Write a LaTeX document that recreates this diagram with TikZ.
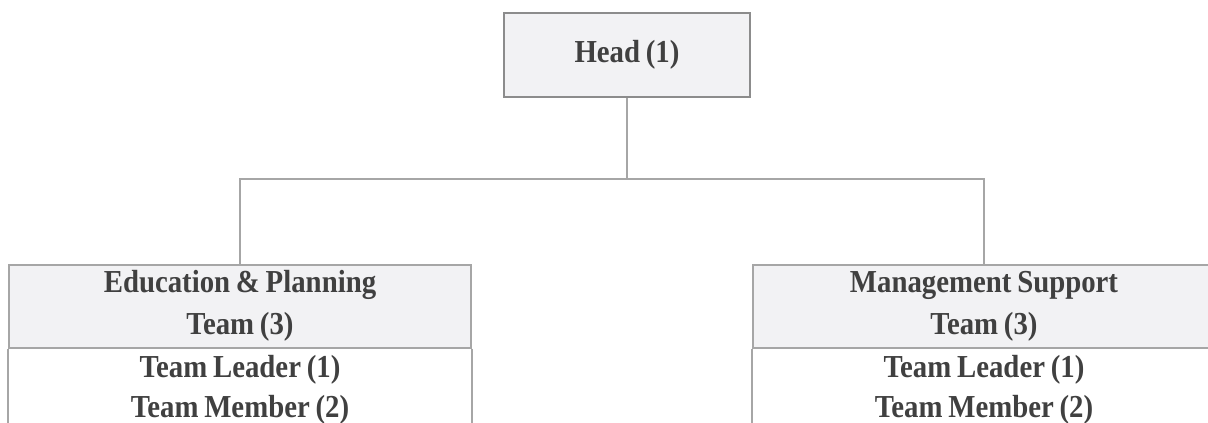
\documentclass[tikz,border=0pt]{standalone}
\usepackage{fontspec}
\setmainfont{Liberation Serif}[FakeStretch=0.9, WordSpace=0.8]
\usetikzlibrary{positioning}
\definecolor{boxfill}{HTML}{F2F2F4}
\definecolor{boxline}{HTML}{A6A6A6}
\definecolor{headline}{HTML}{8C8C8C}
\definecolor{txtcol}{HTML}{404040}

\begin{document}
\begin{tikzpicture}[x=1pt, y=-1pt, text=txtcol,
    font=\bfseries\fontsize{32}{42}\selectfont,
    every node/.style={inner sep=0pt, align=center},
    unit/.style={draw=boxline, line width=2pt, fill=boxfill,
                 minimum width=462pt, minimum height=83pt},
    link/.style={draw=boxline, line width=2pt},
    ]
    \useasboundingbox (0,0) rectangle (1208,423);
    \clip (0,0) rectangle (1208,423);

    \node[draw=headline, line width=2pt, fill=boxfill,
          minimum width=246pt, minimum height=84pt] (head) at (627,55) {Head (1)};

    \node[unit] (edu)  at (240,306) {Education \& Planning\\Team (3)};
    \node[unit] (mgmt) at (984,306) {Management Support\\Team (3)};

    %% lower halves: staff list, open at the bottom
    \node[below=7pt of edu]  (edustaff)  {Team Leader (1)\\[-2pt]Team Member (2)};
    \node[below=7pt of mgmt] (mgmtstaff) {Team Leader (1)\\[-2pt]Team Member (2)};
    \draw[link] (edu.south west)  -- ++(0,140);
    \draw[link] (edu.south east)  -- ++(0,140);
    \draw[link] (mgmt.south west) -- ++(0,140);
    \draw[link] (mgmt.south east) -- ++(0,140);

    % connectors
    \coordinate (fork) at (627,179);
    \draw[link] (head.south) -- (fork);
    \draw[link] (edu.north) |- (fork) -| (mgmt.north);
\end{tikzpicture}
\end{document}
